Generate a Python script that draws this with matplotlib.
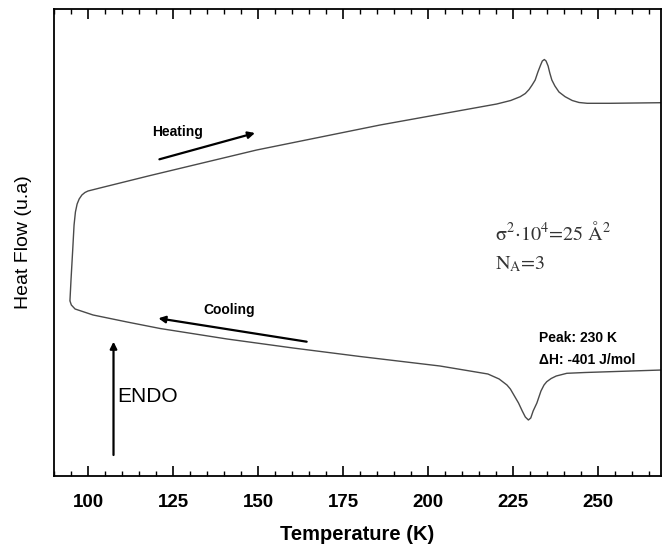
import matplotlib
matplotlib.use("Agg")
import matplotlib.pyplot as plt
from matplotlib.ticker import MultipleLocator

plt.rcParams['font.family'] = ['Liberation Sans', 'DejaVu Sans']
plt.rcParams['mathtext.fontset'] = 'stix'

# DSC trace, heating run (T in K, heat flow in arbitrary units)
heat_T = [94.6, 94.9, 95.4, 95.8, 96.2, 96.7, 97.3, 98.1, 99.0, 99.9, 103.4,
          118.1, 149.5, 185.8, 220.1, 224.2, 227.0, 228.5, 229.6, 230.5, 231.4,
          232.2, 233.0, 233.5, 234.1, 234.6, 235.2, 235.7, 236.3, 237.2, 238.4,
          240.2, 242.3, 244.3, 246.7, 253.4, 268.7]
heat_flow = [176, 196, 226, 251, 264, 272, 277, 281, 283.5, 285, 288,
             300.4, 326, 351, 372, 375.5, 379.3, 382.5, 386.5, 391, 396,
             404, 411, 415, 416.5, 415, 410, 403, 396, 390, 384,
             379.3, 375.5, 373.5, 372.7, 372.7, 373.3]

# cooling run
cool_T = [94.6, 95.0, 96.1, 101.4, 111.4, 121.1, 140.8, 160.2, 179.9, 203.4,
          217.5, 220.8, 223.1, 224.1, 225.3, 226.5, 227.6, 228.5, 229.4, 230.1,
          230.8, 231.9, 233.1, 234.0, 234.8, 236.1, 237.6, 240.7, 246.1, 268.7]
cool_flow = [175, 171, 167, 161, 154, 147.5, 137, 128, 119.5, 110,
             102, 97, 91, 87, 80, 73, 65, 59, 56, 58,
             65, 73, 85, 91, 94.3, 97.5, 100, 102.7, 103.5, 106]

xticks = [100, 125, 150, 175, 200, 225, 250]

fig = plt.figure(figsize=(6.62, 5.47), dpi=100)
ax = fig.add_axes([54 / 662, 71 / 547, 607 / 662, 467 / 547])

ax.plot(heat_T, heat_flow, color='#4a4a4a', lw=1.0)
ax.plot(cool_T, cool_flow, color='#4a4a4a', lw=1.0)

ax.set_xlim(89.9, 268.4)
ax.set_ylim(0, 467)

ax.set_xticks(xticks)
ax.xaxis.set_minor_locator(MultipleLocator(5))
ax.set_yticks([])
ax.tick_params(axis='x', which='major', direction='in', top=True, length=7,
               width=1.2, pad=13, labelsize=13.5)
ax.tick_params(axis='x', which='minor', direction='in', top=True, length=3.5,
               width=1.0)
for lab in ax.get_xticklabels():
    lab.set_fontweight('bold')
for s in ax.spines.values():
    s.set_linewidth(1.3)

ax.set_xlabel('Temperature (K)', fontsize=14.5, fontweight='bold', labelpad=10)
ax.set_ylabel('Heat Flow (u.a)', fontsize=14)
ax.yaxis.set_label_coords(-0.036, 0.5)

# arrows and labels
arrow = dict(arrowstyle='-|>', color='black', lw=1.6, mutation_scale=10,
             shrinkA=0, shrinkB=0)
ax.annotate('', xy=(149.0, 343), xytext=(120.9, 316.7), arrowprops=arrow)
ax.text(126.2, 344, 'Heating', fontsize=10, fontweight='bold',
        ha='center', va='center')
ax.annotate('', xy=(120.6, 157.7), xytext=(164.2, 134.3), arrowprops=arrow)
ax.text(141.4, 166, 'Cooling', fontsize=10, fontweight='bold',
        ha='center', va='center')
ax.annotate('', xy=(107.4, 134.3), xytext=(107.4, 21), arrowprops=arrow)
ax.text(108.6, 79.5, 'ENDO', fontsize=15, ha='left', va='center')

ax.text(232.6, 138.5, 'Peak: 230 K', fontsize=10, fontweight='bold',
        ha='left', va='center')
ax.text(232.6, 116, 'ΔH: -401 J/mol', fontsize=10, fontweight='bold',
        ha='left', va='center')

ax.text(219.6, 243, r'σ$^{2}{\cdot}$10$^{4}$=25 Å$^{2}$', fontsize=14.5,
        family='STIXGeneral', color='#333333', ha='left', va='center')
ax.text(219.6, 212, r'N$_{\mathrm{A}}$=3', fontsize=14.5,
        family='STIXGeneral', color='#333333', ha='left', va='center')

fig.savefig('out.png', dpi=100)
